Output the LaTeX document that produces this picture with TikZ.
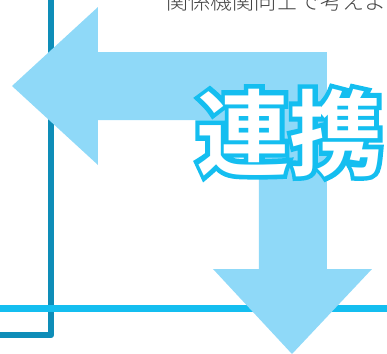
\documentclass[tikz,border=0pt]{standalone}
\usepackage{fontspec}
\newfontfamily\jplight{Noto Sans CJK JP Light}
\newfontfamily\jpout[FakeBold=8.5]{Noto Sans CJK JP Black}
\newfontfamily\jpin{Noto Sans CJK JP Bold}
\definecolor{arrowblue}{HTML}{8FD9F8}
\definecolor{linecyan}{HTML}{14BEF0}
\definecolor{frameteal}{HTML}{0E8DB8}
\definecolor{textgray}{HTML}{444444}
\tikzset{
  px/.style={x=0.75pt,y=-0.75pt},
  bigarrow/.style={fill=arrowblue,draw=none},
  frameline/.style={draw=frameteal,line width=4.9pt,line join=round},
  cyanline/.style={draw=linecyan,line width=5.2pt},
  caption/.style={inner sep=0pt,anchor=base west,text=textgray,font=\jplight\fontsize{16.5}{16.5}\selectfont},
  kanjiout/.style={inner sep=0pt,anchor=base west,text=linecyan,font=\jpout\fontsize{70}{70}\selectfont},
  kanjiin/.style={inner sep=0pt,anchor=base west,text=white,font=\jpin\fontsize{70}{70}\selectfont},
}
\begin{document}
\begin{tikzpicture}[px]
\useasboundingbox (0,0) rectangle (387,354);
\clip (0,0) rectangle (387,354);
\draw[frameline] (51,-10) -- (51,335) -- (-10,335);
\draw[cyanline] (-10,308.5) -- (397,308.5);
\fill[bigarrow] (12,86) -- (98,7) -- (98,52) -- (327,52) -- (327,269) -- (372,269)
  -- (292,354) -- (213,269) -- (259,269) -- (259,120) -- (98,120) -- (98,165) -- cycle;
\node[caption] (cap) at (166,9) {関係機関同士で考えよ};
\node[kanjiout] (kout) at (196,168) {連携};
\node[kanjiin] (kin) at (196,168) {連携};
\end{tikzpicture}
\end{document}
